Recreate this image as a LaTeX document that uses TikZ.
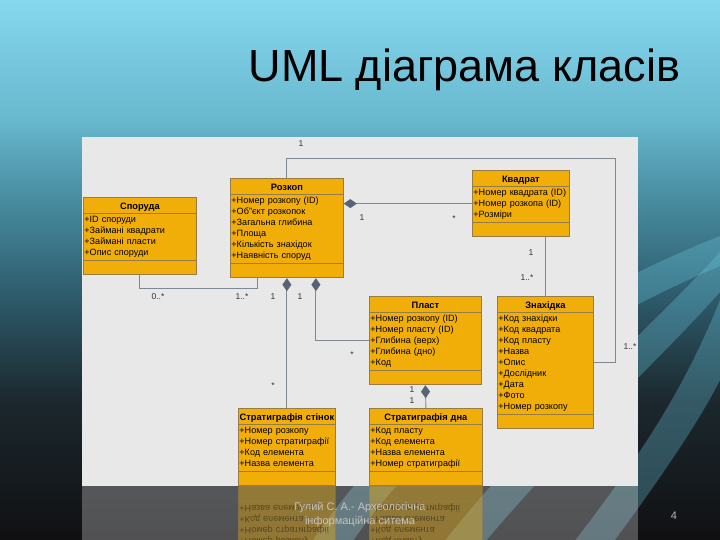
\documentclass[tikz,border=0pt]{standalone}
\usepackage{fontspec}
\setmainfont{Liberation Sans}
\usepackage{tikz}
\usetikzlibrary{shapes.multipart,arrows.meta}
\definecolor{bgA}{RGB}{134,216,238}
\definecolor{bgB}{RGB}{104,184,206}
\definecolor{bgC}{RGB}{72,140,160}
\definecolor{bgD}{RGB}{44,88,104}
\definecolor{bgE}{RGB}{28,40,46}
\definecolor{bgF}{RGB}{16,16,18}
\definecolor{swoosh}{RGB}{110,205,230}
\definecolor{panel}{RGB}{232,232,232}
\definecolor{boxfill}{RGB}{241,174,8}
\definecolor{boxline}{RGB}{150,125,70}
\definecolor{linkgray}{RGB}{128,136,146}
\definecolor{diamondgray}{RGB}{88,100,116}
\definecolor{labelgray}{RGB}{50,50,50}
\definecolor{footgray}{RGB}{195,195,195}
\pgfdeclareverticalshading{slidebg}{100bp}{color(0bp)=(bgF); color(25bp)=(bgF); color(38bp)=(bgE); color(47bp)=(bgD); color(56.5bp)=(bgC); color(64bp)=(bgB); color(75bp)=(bgA); color(100bp)=(bgA)}
\newcommand{\ctitle}[1]{\hbox to\hsize{\hss\rule[-5pt]{0pt}{13pt}\raisebox{-2.5pt}{\fontsize{9.3}{11}\bfseries #1}\hss}}
\newcommand{\crows}[1]{\strut#1\strut}
\newcommand{\cempty}{\rule{0pt}{12pt}}

\begin{document}
\begin{tikzpicture}[x=1pt, y=-1pt,
  cls/.style={draw=boxline, fill=boxfill, line width=0.8pt, rectangle split, rectangle split parts=3,
    inner xsep=1pt, inner ysep=1pt, anchor=north west, align=left, font=\fontsize{9.1}{11}\selectfont},
  link/.style={draw=linkgray, line width=0.9pt},
  mult/.style={font=\fontsize{8.5}{10}\selectfont, text=labelgray, inner sep=0pt},
  >={Diamond[length=13pt,width=9pt,color=diamondgray,fill=diamondgray]}]
\useasboundingbox (0,0) rectangle (720,540);
% slide background
\shade[shading=slidebg] (0,0) rectangle (720,540);
\fill[swoosh, opacity=.3] (720,236) .. controls (560,300) and (400,400) .. (300,560) -- (340,560) .. controls (430,420) and (580,325) .. (720,266) -- cycle;
\fill[swoosh, opacity=.3] (720,252) .. controls (640,340) and (520,440) .. (430,560) -- (470,560) .. controls (560,450) and (660,360) .. (720,292) -- cycle;
\fill[swoosh, opacity=.3] (720,300) .. controls (680,400) and (630,470) .. (560,560) -- (600,560) .. controls (660,480) and (700,420) .. (720,380) -- cycle;
\node[anchor=base west, font=\fontsize{45}{50}\selectfont] (title) at (245,82) {UML діаграма класів};
\fill[panel] (82,137) rectangle (638,486);

% classes
\node[cls, text width=111pt] (sporuda) at (83,197) {\ctitle{Споруда}
  \nodepart{second}\crows{+ID споруди\\+Займані квадрати\\+Займані пласти\\+Опис споруди}
  \nodepart{third}\cempty};
\node[cls, text width=111pt] (rozkop) at (230,178) {\ctitle{Розкоп}
  \nodepart{second}\crows{+Номер розкопу (ID)\\+Об"єкт розкопок\\+Загальна глибина\\+Площа\\+Кількість знахідок\\+Наявність споруд}
  \nodepart{third}\cempty};
\node[cls, text width=95pt] (kvadrat) at (472,170) {\ctitle{Квадрат}
  \nodepart{second}\crows{+Номер квадрата (ID)\\+Номер розкопа (ID)\\+Розміри}
  \nodepart{third}\cempty};
\node[cls, text width=110pt] (plast) at (369,296) {\ctitle{Пласт}
  \nodepart{second}\crows{+Номер розкопу (ID)\\+Номер пласту (ID)\\+Глибина (верх)\\+Глибина (дно)\\+Код}
  \nodepart{third}\cempty};
\node[cls, text width=94pt] (znakhidka) at (497,296) {\ctitle{Знахідка}
  \nodepart{second}\crows{+Код знахідки\\+Код квадрата\\+Код пласту\\+Назва\\+Опис\\+Дослідник\\+Дата\\+Фото\\+Номер розкопу}
  \nodepart{third}\cempty};
\node[cls, text width=95pt] (stinok) at (238,408) {\ctitle{Стратиграфія стінок}
  \nodepart{second}\crows{+Номер розкопу\\+Номер стратиграфії\\+Код елемента\\+Назва елемента}
  \nodepart{third}\cempty};
\node[cls, text width=111pt] (dna) at (369,408) {\ctitle{Стратиграфія дна}
  \nodepart{second}\crows{+Код пласту\\+Код елемента\\+Назва елемента\\+Номер стратиграфії}
  \nodepart{third}\cempty};

% connectors
\coordinate (ne) at (615,158);
\draw[link] (rozkop.north) |- (ne) |- (znakhidka.east);
\draw[link] (sporuda.south) -- ++(0,13) -| ([xshift=-29pt]rozkop.south);
\draw[link,<-] (rozkop.east |- kvadrat.west) -- (kvadrat.west);
\draw[link] (znakhidka.north |- kvadrat.south) -- (znakhidka.north);
\draw[link,<-] (rozkop.south) -- (stinok.north);
\draw[link,<-] ([xshift=29pt]rozkop.south) |- (plast.west);
\draw[link,<-] (plast.south) -- (dna.north);

% multiplicities
\node[mult] (m1) at (301,144) {1};
\node[mult] (m2) at (630,347) {1..*};
\node[mult] (m3) at (158,297) {0..*};
\node[mult] (m4) at (242,297) {1..*};
\node[mult] (m5) at (273,297) {1};
\node[mult] (m6) at (300,297) {1};
\node[mult] (m7) at (362,218) {1};
\node[mult] (m8) at (454,219) {*};
\node[mult] (m9) at (531,253) {1};
\node[mult] (m10) at (527,278) {1..*};
\node[mult] (m11) at (352,355) {*};
\node[mult] (m12) at (273,386) {*};
\node[mult] (m13) at (412,390) {1};
\node[mult] (m14) at (412,401) {1};

% reflection
\begin{scope}
\clip (82,486) rectangle (638,540);
\fill[panel, opacity=.3] (82,486) rectangle (638,540);
\begin{scope}[shift={(0,972)}, yscale=-1, transform shape, opacity=.4]
\node[cls, text width=95pt] (stinokR) at (238,408) {\ctitle{Стратиграфія стінок}
  \nodepart{second}\crows{+Номер розкопу\\+Номер стратиграфії\\+Код елемента\\+Назва елемента}
  \nodepart{third}\cempty};
\node[cls, text width=111pt] (dnaR) at (369,408) {\ctitle{Стратиграфія дна}
  \nodepart{second}\crows{+Код пласту\\+Код елемента\\+Назва елемента\\+Номер стратиграфії}
  \nodepart{third}\cempty};
\end{scope}
\end{scope}

% footer
\node[font=\fontsize{11}{14}\selectfont, text=footgray, align=center] (foot) at (360,515) {Гулий С. А.- Археологічна\\інформаційна ситема};
\node[font=\fontsize{11}{14}\selectfont, text=footgray!80!gray] (page) at (674,516) {4};
\end{tikzpicture}
\end{document}
